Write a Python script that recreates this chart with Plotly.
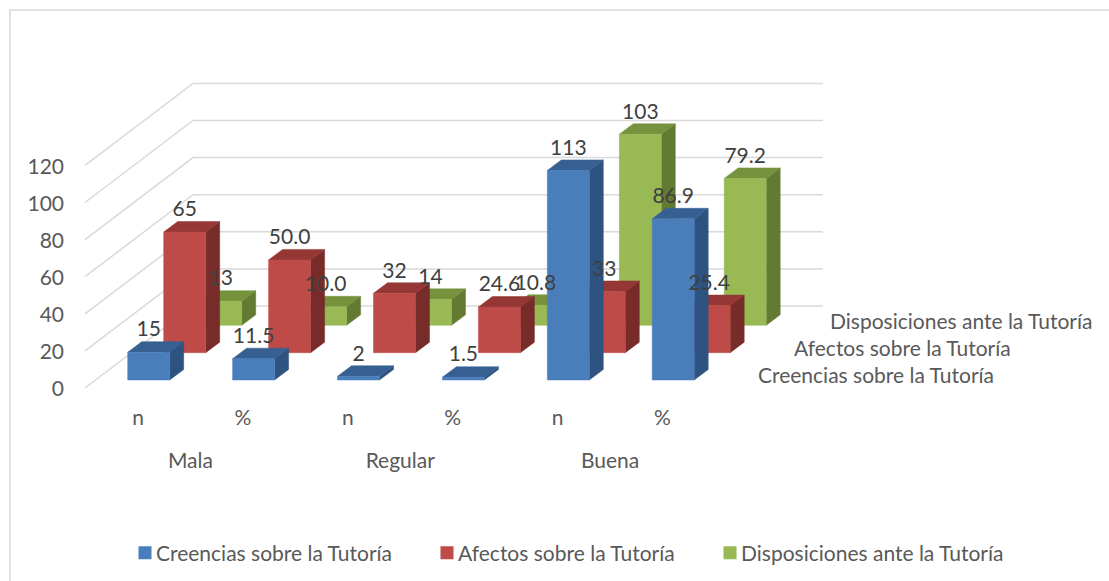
import plotly.graph_objects as go

# ---- data ----
group_labels = ["Mala", "Regular", "Buena"]
category_labels = ["n", "%", "n", "%", "n", "%"]
series_names = ["Creencias sobre la Tutoría", "Afectos sobre la Tutoría", "Disposiciones ante la Tutoría"]
creencias = [15, 11.5, 2, 1.5, 113, 86.9]
afectos = [65, 50.0, 32, 24.6, 33, 25.4]
disposiciones = [13, 10.0, 14, 10.8, 103, 79.2]
creencias_text = ["15", "11.5", "2", "1.5", "113", "86.9"]
afectos_text = ["65", "50.0", "32", "24.6", "33", "25.4"]
disposiciones_text = ["13", "10.0", "14", "10.8", "103", "79.2"]
axis_ticks = [0, 20, 40, 60, 80, 100, 120]

# ---- style ----
FRONT = ["#4A7EBB", "#BE4B48", "#98B954"]
TOP = ["#376092", "#953735", "#76923C"]
SIDE = ["#2F5380", "#772C2A", "#637A32"]
TEXT = "#595959"
DARK = "#404040"
GRID = "#D9D9D9"
FONT = "Lato"
SIZE = 21
TEXT_DY = 3

# ---- oblique projection of the 3D chart onto the page ----
W, H = 1109, 581
X0, Y0 = 85.0, 388.0         # front-left corner of the floor
DX, DY = 108.0, -82.0        # full depth vector of the chart
UNIT = 1.855                 # px per value unit
STEP = 104.9                 # px per category
WALL_END = 823.0
BAR_W = 42.0
BAR_DX, BAR_DY = 14.0, -10.5
BAR_X0, BAR_Y0 = 42.7, -8.0  # first bar relative to the origin


def bar_base(cat, ser):
    return (X0 + BAR_X0 + STEP * cat + DX / 3 * ser,
            Y0 + BAR_Y0 + DY / 3 * ser)


def polys(values, ser):
    front, top, side = ([], []), ([], []), ([], [])
    for c, v in enumerate(values):
        x, y = bar_base(c, ser)
        yt = y - UNIT * v
        xr = x + BAR_W
        for tgt, xs, ys in (
            (front, [x, xr, xr, x, x], [y, y, yt, yt, y]),
            (top, [x, xr, xr + BAR_DX, x + BAR_DX, x], [yt, yt, yt + BAR_DY, yt + BAR_DY, yt]),
            (side, [xr, xr + BAR_DX, xr + BAR_DX, xr, xr], [y, y + BAR_DY, yt + BAR_DY, yt, y]),
        ):
            tgt[0].extend(xs + [None])
            tgt[1].extend(ys + [None])
    return front, top, side


fig = go.Figure()

# gridlines
gx, gy = [], []
for t in axis_ticks:
    yf = Y0 - UNIT * t
    gx += [X0, X0 + DX, WALL_END, None]
    gy += [yf, yf + DY, yf + DY, None]
fig.add_trace(go.Scatter(x=gx, y=gy, mode="lines", line=dict(color=GRID, width=1.5),
                         hoverinfo="skip", showlegend=False))

all_values = [creencias, afectos, disposiciones]
all_text = [creencias_text, afectos_text, disposiciones_text]

# bars, back row first
for s in (2, 1, 0):
    front, top, side = polys(all_values[s], s)
    for (xs, ys), col in ((side, SIDE[s]), (top, TOP[s]), (front, FRONT[s])):
        fig.add_trace(go.Scatter(x=xs, y=ys, mode="lines", fill="toself", fillcolor=col,
                                 line=dict(color=col, width=0.5), hoverinfo="skip", showlegend=False))

# value labels on top of every bar
for s in (2, 1, 0):
    lx, ly = [], []
    for c, v in enumerate(all_values[s]):
        x, y = bar_base(c, s)
        lx.append(x + BAR_W / 2)
        ly.append(y - UNIT * v - 24 + TEXT_DY)
    fig.add_trace(go.Scatter(x=lx, y=ly, mode="text", text=all_text[s], textposition="middle center",
                             textfont=dict(family=FONT, size=SIZE, color=DARK),
                             hoverinfo="skip", showlegend=False))

# value axis labels
fig.add_trace(go.Scatter(x=[X0 - 21] * len(axis_ticks), y=[Y0 - UNIT * t + TEXT_DY for t in axis_ticks],
                         mode="text", text=[str(t) for t in axis_ticks], textposition="middle left",
                         textfont=dict(family=FONT, size=SIZE, color=TEXT),
                         hoverinfo="skip", showlegend=False))

# category labels
fig.add_trace(go.Scatter(x=[X0 + 53 + STEP * i for i in range(len(category_labels))],
                         y=[417 + TEXT_DY] * len(category_labels), mode="text", text=category_labels,
                         textposition="middle center", textfont=dict(family=FONT, size=SIZE, color=TEXT),
                         hoverinfo="skip", showlegend=False))
fig.add_trace(go.Scatter(x=[X0 + 53 + STEP * (2 * i + 0.5) for i in range(len(group_labels))],
                         y=[460 + TEXT_DY] * len(group_labels), mode="text", text=group_labels,
                         textposition="middle center", textfont=dict(family=FONT, size=SIZE, color=TEXT),
                         hoverinfo="skip", showlegend=False))

# depth-axis labels
fig.add_trace(go.Scatter(x=[758 + DX / 3 * s for s in range(3)],
                         y=[375 + TEXT_DY + DY / 3 * s for s in range(3)],
                         mode="text", text=series_names, textposition="middle right",
                         textfont=dict(family=FONT, size=SIZE, color=TEXT),
                         hoverinfo="skip", showlegend=False))

# legend: one native legend per entry so that each entry sits where the reference has it
legend_x = [116, 418, 701]
for s, name in enumerate(series_names):
    key = "legend" if s == 0 else f"legend{s + 1}"
    fig.add_trace(go.Scatter(x=[None], y=[None], mode="markers", name=name, legend=key,
                             marker=dict(symbol="square", size=13, color=FRONT[s], angle=90, standoff=9)))
    fig.layout[key] = dict(x=legend_x[s] / W, y=1 - 553 / H, xanchor="left", yanchor="middle",
                           bgcolor="rgba(0,0,0,0)", font=dict(family=FONT, size=SIZE, color=TEXT))

fig.update_layout(
    width=W, height=H, margin=dict(l=0, r=0, t=0, b=0),
    paper_bgcolor="white", plot_bgcolor="white",
    xaxis=dict(range=[0, W], visible=False, fixedrange=True),
    yaxis=dict(range=[H, 0], visible=False, fixedrange=True),
    shapes=[dict(type="rect", xref="x", yref="y", x0=10, y0=10, x1=W + 20, y1=H + 20,
                 line=dict(color=GRID, width=1.5), layer="below")],
)

fig.write_html("out.html", config={"displayModeBar": False},
               post_script="document.body.style.margin='0';document.body.style.overflow='hidden';")
